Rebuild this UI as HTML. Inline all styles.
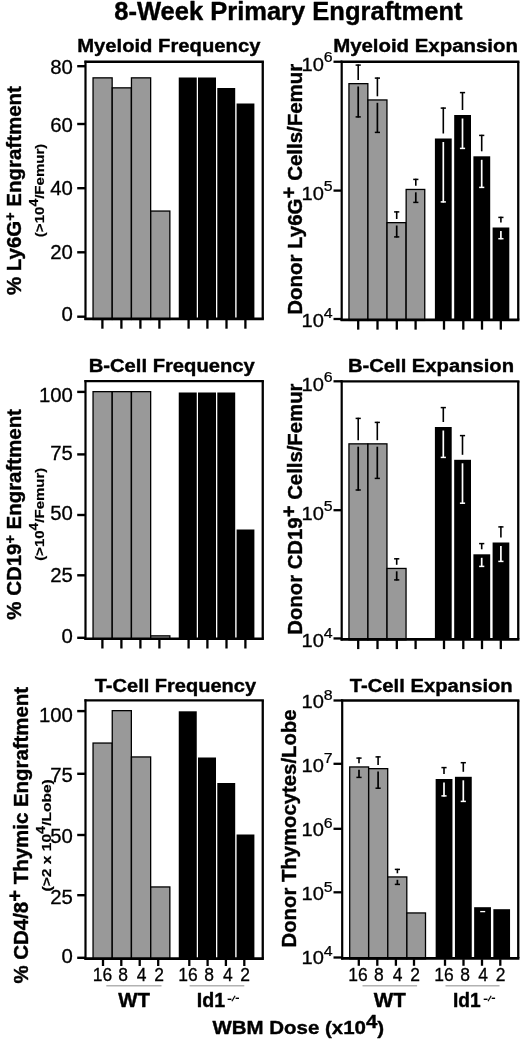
<!DOCTYPE html><html><head><meta charset="utf-8"><title>Figure</title>
<style>html,body{margin:0;padding:0;background:#fff}svg{display:block;filter:grayscale(1)}text{font-family:"Liberation Sans",sans-serif;fill:#000}</style></head><body>
<svg width="520" height="1039" viewBox="0 0 520 1039">
<rect width="520" height="1039" fill="#fff"/>
<text transform="translate(114.23,20.00) scale(1.0252,1)" font-size="24.9" font-weight="bold" stroke="#000" stroke-width="0.4" stroke-linejoin="round">8-Week Primary Engraftment</text>
<text transform="translate(77.18,52.00) scale(1.0537,1)" font-size="19.2" font-weight="bold" stroke="#000" stroke-width="0.4" stroke-linejoin="round">Myeloid Frequency</text>
<rect x="93.05" y="77.85" width="19.10" height="241.60" fill="#999999" stroke="#000" stroke-width="1.3"/>
<rect x="112.25" y="87.85" width="19.10" height="231.60" fill="#999999" stroke="#000" stroke-width="1.3"/>
<rect x="131.45" y="77.85" width="19.20" height="241.60" fill="#999999" stroke="#000" stroke-width="1.3"/>
<rect x="150.75" y="211.05" width="19.10" height="108.40" fill="#999999" stroke="#000" stroke-width="1.3"/>
<rect x="178.75" y="77.50" width="18.00" height="241.30" fill="#000"/>
<rect x="198.00" y="77.50" width="18.00" height="241.30" fill="#000"/>
<rect x="217.30" y="88.00" width="17.90" height="230.80" fill="#000"/>
<rect x="236.60" y="103.50" width="17.80" height="215.30" fill="#000"/>
<line x1="85.50" y1="60.65" x2="85.50" y2="320.10" stroke="#000" stroke-width="2.2"/>
<line x1="84.40" y1="61.75" x2="263.90" y2="61.75" stroke="#000" stroke-width="2.3"/>
<line x1="84.40" y1="318.95" x2="263.90" y2="318.95" stroke="#000" stroke-width="2.7"/>
<line x1="262.75" y1="61.75" x2="262.75" y2="318.80" stroke="#000" stroke-width="2.3"/>
<line x1="102.40" y1="319.80" x2="102.40" y2="328.70" stroke="#000" stroke-width="2.3"/>
<line x1="121.40" y1="319.80" x2="121.40" y2="328.70" stroke="#000" stroke-width="2.3"/>
<line x1="140.40" y1="319.80" x2="140.40" y2="328.70" stroke="#000" stroke-width="2.3"/>
<line x1="159.40" y1="319.80" x2="159.40" y2="328.70" stroke="#000" stroke-width="2.3"/>
<line x1="188.60" y1="319.80" x2="188.60" y2="328.70" stroke="#000" stroke-width="2.3"/>
<line x1="207.40" y1="319.80" x2="207.40" y2="328.70" stroke="#000" stroke-width="2.3"/>
<line x1="226.50" y1="319.80" x2="226.50" y2="328.70" stroke="#000" stroke-width="2.3"/>
<line x1="245.40" y1="319.80" x2="245.40" y2="328.70" stroke="#000" stroke-width="2.3"/>
<line x1="77.20" y1="66.20" x2="85.50" y2="66.20" stroke="#000" stroke-width="2.4"/>
<text transform="translate(72.9,73.80) scale(1.055,1)" font-size="19.3" text-anchor="end" stroke="#000" stroke-width="0.3">80</text>
<line x1="77.20" y1="124.00" x2="85.50" y2="124.00" stroke="#000" stroke-width="2.4"/>
<text transform="translate(72.9,131.50) scale(1.055,1)" font-size="19.3" text-anchor="end" stroke="#000" stroke-width="0.3">60</text>
<line x1="77.20" y1="188.20" x2="85.50" y2="188.20" stroke="#000" stroke-width="2.4"/>
<text transform="translate(72.9,195.30) scale(1.055,1)" font-size="19.3" text-anchor="end" stroke="#000" stroke-width="0.3">40</text>
<line x1="77.20" y1="252.30" x2="85.50" y2="252.30" stroke="#000" stroke-width="2.4"/>
<text transform="translate(72.9,258.90) scale(1.055,1)" font-size="19.3" text-anchor="end" stroke="#000" stroke-width="0.3">20</text>
<line x1="77.20" y1="316.70" x2="85.50" y2="316.70" stroke="#000" stroke-width="2.4"/>
<text transform="translate(72.9,321.10) scale(1.055,1)" font-size="19.3" text-anchor="end" stroke="#000" stroke-width="0.3">0</text>
<text transform="translate(20.60,295.11) rotate(-90) scale(1.0241,1)" font-size="20" font-weight="bold" stroke="#000" stroke-width="0.4" stroke-linejoin="round">% Ly6G<tspan dy="-5.8" font-size="14">+</tspan><tspan dy="5.8"> </tspan>Engraftment</text>
<text transform="translate(43.90,237.17) rotate(-90) scale(1.1596,1)" font-size="13" font-weight="bold" stroke="#000" stroke-width="0.2">(&gt;10<tspan dy="-5.6" font-size="12">4</tspan><tspan dy="5.6">/Femur)</tspan></text>
<text transform="translate(333.17,52.00) scale(1.0628,1)" font-size="19.2" font-weight="bold" stroke="#000" stroke-width="0.4" stroke-linejoin="round">Myeloid Expansion</text>
<rect x="348.95" y="83.65" width="18.90" height="236.75" fill="#999999" stroke="#000" stroke-width="1.3"/>
<rect x="367.95" y="99.95" width="19.00" height="220.45" fill="#999999" stroke="#000" stroke-width="1.3"/>
<rect x="387.05" y="222.65" width="19.00" height="97.75" fill="#999999" stroke="#000" stroke-width="1.3"/>
<rect x="406.15" y="189.45" width="18.60" height="130.95" fill="#999999" stroke="#000" stroke-width="1.3"/>
<rect x="434.90" y="138.50" width="16.80" height="181.25" fill="#000"/>
<rect x="454.20" y="115.00" width="16.80" height="204.75" fill="#000"/>
<rect x="473.40" y="156.30" width="16.80" height="163.45" fill="#000"/>
<rect x="492.60" y="227.50" width="16.70" height="92.25" fill="#000"/>
<line x1="358.20" y1="64.50" x2="358.20" y2="80.00" stroke="#000" stroke-width="1.6"/>
<line x1="355.60" y1="65.10" x2="360.80" y2="65.10" stroke="#000" stroke-width="1.5"/>
<line x1="358.20" y1="86.50" x2="358.20" y2="117.50" stroke="#000" stroke-width="1.7"/>
<line x1="355.60" y1="116.90" x2="360.80" y2="116.90" stroke="#000" stroke-width="1.5"/>
<line x1="377.40" y1="77.50" x2="377.40" y2="96.30" stroke="#000" stroke-width="1.6"/>
<line x1="374.80" y1="78.10" x2="380.00" y2="78.10" stroke="#000" stroke-width="1.5"/>
<line x1="377.40" y1="102.80" x2="377.40" y2="133.00" stroke="#000" stroke-width="1.7"/>
<line x1="374.80" y1="132.40" x2="380.00" y2="132.40" stroke="#000" stroke-width="1.5"/>
<line x1="396.70" y1="211.30" x2="396.70" y2="219.00" stroke="#000" stroke-width="1.6"/>
<line x1="394.10" y1="211.90" x2="399.30" y2="211.90" stroke="#000" stroke-width="1.5"/>
<line x1="396.70" y1="225.50" x2="396.70" y2="237.50" stroke="#000" stroke-width="1.7"/>
<line x1="394.10" y1="236.90" x2="399.30" y2="236.90" stroke="#000" stroke-width="1.5"/>
<line x1="415.80" y1="178.80" x2="415.80" y2="185.80" stroke="#000" stroke-width="1.6"/>
<line x1="413.20" y1="179.40" x2="418.40" y2="179.40" stroke="#000" stroke-width="1.5"/>
<line x1="415.80" y1="192.30" x2="415.80" y2="203.00" stroke="#000" stroke-width="1.7"/>
<line x1="413.20" y1="202.40" x2="418.40" y2="202.40" stroke="#000" stroke-width="1.5"/>
<line x1="443.30" y1="107.50" x2="443.30" y2="133.50" stroke="#000" stroke-width="1.6"/>
<line x1="440.70" y1="108.10" x2="445.90" y2="108.10" stroke="#000" stroke-width="1.5"/>
<line x1="443.30" y1="142.00" x2="443.30" y2="202.50" stroke="#fff" stroke-width="1.7"/>
<line x1="440.70" y1="201.90" x2="445.90" y2="201.90" stroke="#fff" stroke-width="1.5"/>
<line x1="462.50" y1="92.00" x2="462.50" y2="110.00" stroke="#000" stroke-width="1.6"/>
<line x1="459.90" y1="92.60" x2="465.10" y2="92.60" stroke="#000" stroke-width="1.5"/>
<line x1="462.50" y1="118.50" x2="462.50" y2="149.00" stroke="#fff" stroke-width="1.7"/>
<line x1="459.90" y1="148.40" x2="465.10" y2="148.40" stroke="#fff" stroke-width="1.5"/>
<line x1="481.70" y1="134.80" x2="481.70" y2="151.30" stroke="#000" stroke-width="1.6"/>
<line x1="479.10" y1="135.40" x2="484.30" y2="135.40" stroke="#000" stroke-width="1.5"/>
<line x1="481.70" y1="159.80" x2="481.70" y2="188.00" stroke="#fff" stroke-width="1.7"/>
<line x1="479.10" y1="187.40" x2="484.30" y2="187.40" stroke="#fff" stroke-width="1.5"/>
<line x1="500.90" y1="216.80" x2="500.90" y2="222.50" stroke="#000" stroke-width="1.6"/>
<line x1="498.30" y1="217.40" x2="503.50" y2="217.40" stroke="#000" stroke-width="1.5"/>
<line x1="500.90" y1="231.00" x2="500.90" y2="239.30" stroke="#fff" stroke-width="1.7"/>
<line x1="498.30" y1="238.70" x2="503.50" y2="238.70" stroke="#fff" stroke-width="1.5"/>
<line x1="341.70" y1="60.65" x2="341.70" y2="321.05" stroke="#000" stroke-width="2.2"/>
<line x1="340.60" y1="61.75" x2="519.40" y2="61.75" stroke="#000" stroke-width="2.3"/>
<line x1="340.60" y1="319.90" x2="519.40" y2="319.90" stroke="#000" stroke-width="2.7"/>
<line x1="518.25" y1="61.75" x2="518.25" y2="319.75" stroke="#000" stroke-width="2.3"/>
<line x1="358.20" y1="320.75" x2="358.20" y2="329.65" stroke="#000" stroke-width="2.3"/>
<line x1="377.50" y1="320.75" x2="377.50" y2="329.65" stroke="#000" stroke-width="2.3"/>
<line x1="396.80" y1="320.75" x2="396.80" y2="329.65" stroke="#000" stroke-width="2.3"/>
<line x1="415.60" y1="320.75" x2="415.60" y2="329.65" stroke="#000" stroke-width="2.3"/>
<line x1="444.00" y1="320.75" x2="444.00" y2="329.65" stroke="#000" stroke-width="2.3"/>
<line x1="463.30" y1="320.75" x2="463.30" y2="329.65" stroke="#000" stroke-width="2.3"/>
<line x1="482.00" y1="320.75" x2="482.00" y2="329.65" stroke="#000" stroke-width="2.3"/>
<line x1="500.80" y1="320.75" x2="500.80" y2="329.65" stroke="#000" stroke-width="2.3"/>
<line x1="333.50" y1="61.75" x2="341.70" y2="61.75" stroke="#000" stroke-width="2.3"/>
<text transform="translate(301.5,70.80) scale(1.08,1)" font-size="18.6" stroke="#000" stroke-width="0.3">10</text>
<text transform="translate(323.8,62.30) scale(1.12,1)" font-size="14.2" stroke="#000" stroke-width="0.25">6</text>
<line x1="333.50" y1="190.60" x2="341.70" y2="190.60" stroke="#000" stroke-width="2.3"/>
<text transform="translate(301.5,199.50) scale(1.08,1)" font-size="18.6" stroke="#000" stroke-width="0.3">10</text>
<text transform="translate(323.8,191.00) scale(1.12,1)" font-size="14.2" stroke="#000" stroke-width="0.25">5</text>
<line x1="333.50" y1="319.00" x2="341.70" y2="319.00" stroke="#000" stroke-width="2.3"/>
<text transform="translate(301.5,327.40) scale(1.08,1)" font-size="18.6" stroke="#000" stroke-width="0.3">10</text>
<text transform="translate(323.8,317.90) scale(1.12,1)" font-size="14.2" stroke="#000" stroke-width="0.25">4</text>
<text transform="translate(301.60,314.78) rotate(-90) scale(1.0234,1)" font-size="20" font-weight="bold" stroke="#000" stroke-width="0.4" stroke-linejoin="round">Donor Ly6G<tspan dy="-5.8">+</tspan><tspan dy="5.8"> </tspan>Cells/Femur</text>
<text transform="translate(88.68,372.00) scale(1.0528,1)" font-size="19.2" font-weight="bold" stroke="#000" stroke-width="0.4" stroke-linejoin="round">B-Cell Frequency</text>
<rect x="93.05" y="391.65" width="19.10" height="247.60" fill="#999999" stroke="#000" stroke-width="1.3"/>
<rect x="112.25" y="391.65" width="19.10" height="247.60" fill="#999999" stroke="#000" stroke-width="1.3"/>
<rect x="131.45" y="391.65" width="19.20" height="247.60" fill="#999999" stroke="#000" stroke-width="1.3"/>
<rect x="150.75" y="635.85" width="19.10" height="3.40" fill="#999999" stroke="#000" stroke-width="1.3"/>
<rect x="178.75" y="392.50" width="18.00" height="246.10" fill="#000"/>
<rect x="198.00" y="392.50" width="18.00" height="246.10" fill="#000"/>
<rect x="217.30" y="392.50" width="17.90" height="246.10" fill="#000"/>
<rect x="236.60" y="529.50" width="17.80" height="109.10" fill="#000"/>
<line x1="85.50" y1="380.00" x2="85.50" y2="639.90" stroke="#000" stroke-width="2.2"/>
<line x1="84.40" y1="381.10" x2="263.90" y2="381.10" stroke="#000" stroke-width="2.3"/>
<line x1="84.40" y1="638.75" x2="263.90" y2="638.75" stroke="#000" stroke-width="2.7"/>
<line x1="262.75" y1="381.10" x2="262.75" y2="638.60" stroke="#000" stroke-width="2.3"/>
<line x1="102.40" y1="639.60" x2="102.40" y2="648.50" stroke="#000" stroke-width="2.3"/>
<line x1="121.40" y1="639.60" x2="121.40" y2="648.50" stroke="#000" stroke-width="2.3"/>
<line x1="140.40" y1="639.60" x2="140.40" y2="648.50" stroke="#000" stroke-width="2.3"/>
<line x1="159.40" y1="639.60" x2="159.40" y2="648.50" stroke="#000" stroke-width="2.3"/>
<line x1="188.60" y1="639.60" x2="188.60" y2="648.50" stroke="#000" stroke-width="2.3"/>
<line x1="207.40" y1="639.60" x2="207.40" y2="648.50" stroke="#000" stroke-width="2.3"/>
<line x1="226.50" y1="639.60" x2="226.50" y2="648.50" stroke="#000" stroke-width="2.3"/>
<line x1="245.40" y1="639.60" x2="245.40" y2="648.50" stroke="#000" stroke-width="2.3"/>
<line x1="77.20" y1="391.90" x2="85.50" y2="391.90" stroke="#000" stroke-width="2.4"/>
<text transform="translate(72.9,401.50) scale(1.055,1)" font-size="19.3" text-anchor="end" stroke="#000" stroke-width="0.3">100</text>
<line x1="77.20" y1="454.40" x2="85.50" y2="454.40" stroke="#000" stroke-width="2.4"/>
<text transform="translate(72.9,460.40) scale(1.055,1)" font-size="19.3" text-anchor="end" stroke="#000" stroke-width="0.3">75</text>
<line x1="77.20" y1="515.00" x2="85.50" y2="515.00" stroke="#000" stroke-width="2.4"/>
<text transform="translate(72.9,519.90) scale(1.055,1)" font-size="19.3" text-anchor="end" stroke="#000" stroke-width="0.3">50</text>
<line x1="77.20" y1="575.30" x2="85.50" y2="575.30" stroke="#000" stroke-width="2.4"/>
<text transform="translate(72.9,582.20) scale(1.055,1)" font-size="19.3" text-anchor="end" stroke="#000" stroke-width="0.3">25</text>
<line x1="77.20" y1="637.80" x2="85.50" y2="637.80" stroke="#000" stroke-width="2.4"/>
<text transform="translate(72.9,642.60) scale(1.055,1)" font-size="19.3" text-anchor="end" stroke="#000" stroke-width="0.3">0</text>
<text transform="translate(20.60,619.71) rotate(-90) scale(1.0231,1)" font-size="20" font-weight="bold" stroke="#000" stroke-width="0.4" stroke-linejoin="round">% CD19<tspan dy="-5.8" font-size="14">+</tspan><tspan dy="5.8"> </tspan>Engraftment</text>
<text transform="translate(43.90,560.87) rotate(-90) scale(1.1546,1)" font-size="13" font-weight="bold" stroke="#000" stroke-width="0.2">(&gt;10<tspan dy="-5.6" font-size="12">4</tspan><tspan dy="5.6">/Femur)</tspan></text>
<text transform="translate(347.88,372.00) scale(1.0531,1)" font-size="19.2" font-weight="bold" stroke="#000" stroke-width="0.4" stroke-linejoin="round">B-Cell Expansion</text>
<rect x="348.95" y="443.85" width="18.90" height="196.00" fill="#999999" stroke="#000" stroke-width="1.3"/>
<rect x="367.95" y="443.85" width="19.00" height="196.00" fill="#999999" stroke="#000" stroke-width="1.3"/>
<rect x="387.05" y="568.45" width="19.00" height="71.40" fill="#999999" stroke="#000" stroke-width="1.3"/>
<rect x="434.90" y="427.00" width="16.80" height="212.20" fill="#000"/>
<rect x="454.20" y="459.80" width="16.80" height="179.40" fill="#000"/>
<rect x="473.40" y="554.30" width="16.80" height="84.90" fill="#000"/>
<rect x="492.60" y="542.50" width="16.70" height="96.70" fill="#000"/>
<line x1="358.20" y1="417.80" x2="358.20" y2="440.20" stroke="#000" stroke-width="1.6"/>
<line x1="355.60" y1="418.40" x2="360.80" y2="418.40" stroke="#000" stroke-width="1.5"/>
<line x1="358.20" y1="446.70" x2="358.20" y2="490.60" stroke="#000" stroke-width="1.7"/>
<line x1="355.60" y1="490.00" x2="360.80" y2="490.00" stroke="#000" stroke-width="1.5"/>
<line x1="377.30" y1="421.80" x2="377.30" y2="440.20" stroke="#000" stroke-width="1.6"/>
<line x1="374.70" y1="422.40" x2="379.90" y2="422.40" stroke="#000" stroke-width="1.5"/>
<line x1="377.30" y1="446.70" x2="377.30" y2="479.00" stroke="#000" stroke-width="1.7"/>
<line x1="374.70" y1="478.40" x2="379.90" y2="478.40" stroke="#000" stroke-width="1.5"/>
<line x1="396.70" y1="558.20" x2="396.70" y2="564.80" stroke="#000" stroke-width="1.6"/>
<line x1="394.10" y1="558.80" x2="399.30" y2="558.80" stroke="#000" stroke-width="1.5"/>
<line x1="396.70" y1="571.30" x2="396.70" y2="580.50" stroke="#000" stroke-width="1.7"/>
<line x1="394.10" y1="579.90" x2="399.30" y2="579.90" stroke="#000" stroke-width="1.5"/>
<line x1="443.30" y1="407.00" x2="443.30" y2="422.00" stroke="#000" stroke-width="1.6"/>
<line x1="440.70" y1="407.60" x2="445.90" y2="407.60" stroke="#000" stroke-width="1.5"/>
<line x1="443.30" y1="430.50" x2="443.30" y2="458.00" stroke="#fff" stroke-width="1.7"/>
<line x1="440.70" y1="457.40" x2="445.90" y2="457.40" stroke="#fff" stroke-width="1.5"/>
<line x1="462.50" y1="435.00" x2="462.50" y2="454.80" stroke="#000" stroke-width="1.6"/>
<line x1="459.90" y1="435.60" x2="465.10" y2="435.60" stroke="#000" stroke-width="1.5"/>
<line x1="462.50" y1="463.30" x2="462.50" y2="503.80" stroke="#fff" stroke-width="1.7"/>
<line x1="459.90" y1="503.20" x2="465.10" y2="503.20" stroke="#fff" stroke-width="1.5"/>
<line x1="481.70" y1="543.00" x2="481.70" y2="549.30" stroke="#000" stroke-width="1.6"/>
<line x1="479.10" y1="543.60" x2="484.30" y2="543.60" stroke="#000" stroke-width="1.5"/>
<line x1="481.70" y1="557.80" x2="481.70" y2="567.00" stroke="#fff" stroke-width="1.7"/>
<line x1="479.10" y1="566.40" x2="484.30" y2="566.40" stroke="#fff" stroke-width="1.5"/>
<line x1="500.90" y1="526.30" x2="500.90" y2="537.50" stroke="#000" stroke-width="1.6"/>
<line x1="498.30" y1="526.90" x2="503.50" y2="526.90" stroke="#000" stroke-width="1.5"/>
<line x1="500.90" y1="546.00" x2="500.90" y2="562.00" stroke="#fff" stroke-width="1.7"/>
<line x1="498.30" y1="561.40" x2="503.50" y2="561.40" stroke="#fff" stroke-width="1.5"/>
<line x1="341.70" y1="380.20" x2="341.70" y2="640.50" stroke="#000" stroke-width="2.2"/>
<line x1="340.60" y1="381.30" x2="519.40" y2="381.30" stroke="#000" stroke-width="2.3"/>
<line x1="340.60" y1="639.35" x2="519.40" y2="639.35" stroke="#000" stroke-width="2.7"/>
<line x1="518.25" y1="381.30" x2="518.25" y2="639.20" stroke="#000" stroke-width="2.3"/>
<line x1="358.20" y1="640.20" x2="358.20" y2="649.10" stroke="#000" stroke-width="2.3"/>
<line x1="377.50" y1="640.20" x2="377.50" y2="649.10" stroke="#000" stroke-width="2.3"/>
<line x1="396.80" y1="640.20" x2="396.80" y2="649.10" stroke="#000" stroke-width="2.3"/>
<line x1="415.60" y1="640.20" x2="415.60" y2="649.10" stroke="#000" stroke-width="2.3"/>
<line x1="444.00" y1="640.20" x2="444.00" y2="649.10" stroke="#000" stroke-width="2.3"/>
<line x1="463.30" y1="640.20" x2="463.30" y2="649.10" stroke="#000" stroke-width="2.3"/>
<line x1="482.00" y1="640.20" x2="482.00" y2="649.10" stroke="#000" stroke-width="2.3"/>
<line x1="500.80" y1="640.20" x2="500.80" y2="649.10" stroke="#000" stroke-width="2.3"/>
<line x1="333.50" y1="381.30" x2="341.70" y2="381.30" stroke="#000" stroke-width="2.3"/>
<text transform="translate(301.5,390.80) scale(1.08,1)" font-size="18.6" stroke="#000" stroke-width="0.3">10</text>
<text transform="translate(323.8,382.30) scale(1.12,1)" font-size="14.2" stroke="#000" stroke-width="0.25">6</text>
<line x1="333.50" y1="510.20" x2="341.70" y2="510.20" stroke="#000" stroke-width="2.3"/>
<text transform="translate(301.5,519.50) scale(1.08,1)" font-size="18.6" stroke="#000" stroke-width="0.3">10</text>
<text transform="translate(323.8,511.00) scale(1.12,1)" font-size="14.2" stroke="#000" stroke-width="0.25">5</text>
<line x1="333.50" y1="638.45" x2="341.70" y2="638.45" stroke="#000" stroke-width="2.3"/>
<text transform="translate(301.5,647.40) scale(1.08,1)" font-size="18.6" stroke="#000" stroke-width="0.3">10</text>
<text transform="translate(323.8,637.90) scale(1.12,1)" font-size="14.2" stroke="#000" stroke-width="0.25">4</text>
<text transform="translate(301.60,634.77) rotate(-90) scale(1.0161,1)" font-size="20" font-weight="bold" stroke="#000" stroke-width="0.4" stroke-linejoin="round">Donor CD19<tspan dy="-5.8">+</tspan><tspan dy="5.8"> </tspan>Cells/Femur</text>
<text transform="translate(94.74,692.40) scale(1.0438,1)" font-size="19.2" font-weight="bold" stroke="#000" stroke-width="0.4" stroke-linejoin="round">T-Cell Frequency</text>
<rect x="93.05" y="743.05" width="19.10" height="216.00" fill="#999999" stroke="#000" stroke-width="1.3"/>
<rect x="112.25" y="710.65" width="19.10" height="248.40" fill="#999999" stroke="#000" stroke-width="1.3"/>
<rect x="131.45" y="756.95" width="19.20" height="202.10" fill="#999999" stroke="#000" stroke-width="1.3"/>
<rect x="150.75" y="886.95" width="19.10" height="72.10" fill="#999999" stroke="#000" stroke-width="1.3"/>
<rect x="178.75" y="711.30" width="18.00" height="247.10" fill="#000"/>
<rect x="198.00" y="757.50" width="18.00" height="200.90" fill="#000"/>
<rect x="217.30" y="783.00" width="17.90" height="175.40" fill="#000"/>
<rect x="236.60" y="834.50" width="17.80" height="123.90" fill="#000"/>
<line x1="85.50" y1="699.30" x2="85.50" y2="959.70" stroke="#000" stroke-width="2.2"/>
<line x1="84.40" y1="700.40" x2="263.90" y2="700.40" stroke="#000" stroke-width="2.3"/>
<line x1="84.40" y1="958.55" x2="263.90" y2="958.55" stroke="#000" stroke-width="2.7"/>
<line x1="262.75" y1="700.40" x2="262.75" y2="958.40" stroke="#000" stroke-width="2.3"/>
<line x1="103.00" y1="959.40" x2="103.00" y2="966.00" stroke="#000" stroke-width="2.3"/>
<line x1="121.30" y1="959.40" x2="121.30" y2="966.00" stroke="#000" stroke-width="2.3"/>
<line x1="139.70" y1="959.40" x2="139.70" y2="966.00" stroke="#000" stroke-width="2.3"/>
<line x1="158.20" y1="959.40" x2="158.20" y2="966.00" stroke="#000" stroke-width="2.3"/>
<line x1="189.30" y1="959.40" x2="189.30" y2="966.00" stroke="#000" stroke-width="2.3"/>
<line x1="207.60" y1="959.40" x2="207.60" y2="966.00" stroke="#000" stroke-width="2.3"/>
<line x1="225.90" y1="959.40" x2="225.90" y2="966.00" stroke="#000" stroke-width="2.3"/>
<line x1="244.30" y1="959.40" x2="244.30" y2="966.00" stroke="#000" stroke-width="2.3"/>
<line x1="77.20" y1="711.10" x2="85.50" y2="711.10" stroke="#000" stroke-width="2.4"/>
<text transform="translate(72.9,721.70) scale(1.055,1)" font-size="19.3" text-anchor="end" stroke="#000" stroke-width="0.3">100</text>
<line x1="77.20" y1="773.80" x2="85.50" y2="773.80" stroke="#000" stroke-width="2.4"/>
<text transform="translate(72.9,781.50) scale(1.055,1)" font-size="19.3" text-anchor="end" stroke="#000" stroke-width="0.3">75</text>
<line x1="77.20" y1="835.00" x2="85.50" y2="835.00" stroke="#000" stroke-width="2.4"/>
<text transform="translate(72.9,843.00) scale(1.055,1)" font-size="19.3" text-anchor="end" stroke="#000" stroke-width="0.3">50</text>
<line x1="77.20" y1="895.20" x2="85.50" y2="895.20" stroke="#000" stroke-width="2.4"/>
<text transform="translate(72.9,903.80) scale(1.055,1)" font-size="19.3" text-anchor="end" stroke="#000" stroke-width="0.3">25</text>
<line x1="77.20" y1="957.80" x2="85.50" y2="957.80" stroke="#000" stroke-width="2.4"/>
<text transform="translate(72.9,962.60) scale(1.055,1)" font-size="19.3" text-anchor="end" stroke="#000" stroke-width="0.3">0</text>
<text transform="translate(28.00,983.51) rotate(-90) scale(1.0210,1)" font-size="20" font-weight="bold" stroke="#000" stroke-width="0.4" stroke-linejoin="round">% CD4/8<tspan dy="-5.8">+</tspan><tspan dy="5.8"> </tspan>Thymic Engraftment</text>
<text transform="translate(50.90,891.40) rotate(-90) scale(1.1978,1)" font-size="13" font-weight="bold" stroke="#000" stroke-width="0.2">(&gt;2 x 10<tspan dy="-5.6" font-size="12">4</tspan><tspan dy="5.6">/Lobe)</tspan></text>
<text transform="translate(349.74,692.40) scale(1.0538,1)" font-size="19.2" font-weight="bold" stroke="#000" stroke-width="0.4" stroke-linejoin="round">T-Cell Expansion</text>
<rect x="349.70" y="766.95" width="18.90" height="191.90" fill="#999999" stroke="#000" stroke-width="1.3"/>
<rect x="368.70" y="768.65" width="19.00" height="190.20" fill="#999999" stroke="#000" stroke-width="1.3"/>
<rect x="387.80" y="876.95" width="19.00" height="81.90" fill="#999999" stroke="#000" stroke-width="1.3"/>
<rect x="406.90" y="912.95" width="18.60" height="45.90" fill="#999999" stroke="#000" stroke-width="1.3"/>
<rect x="435.65" y="779.00" width="16.80" height="179.20" fill="#000"/>
<rect x="454.95" y="776.80" width="16.80" height="181.40" fill="#000"/>
<rect x="474.15" y="907.20" width="16.80" height="51.00" fill="#000"/>
<rect x="493.35" y="909.20" width="16.70" height="49.00" fill="#000"/>
<line x1="359.00" y1="757.50" x2="359.00" y2="763.30" stroke="#000" stroke-width="1.6"/>
<line x1="356.40" y1="758.10" x2="361.60" y2="758.10" stroke="#000" stroke-width="1.5"/>
<line x1="359.00" y1="769.80" x2="359.00" y2="778.00" stroke="#000" stroke-width="1.7"/>
<line x1="356.40" y1="777.40" x2="361.60" y2="777.40" stroke="#000" stroke-width="1.5"/>
<line x1="378.10" y1="756.30" x2="378.10" y2="765.00" stroke="#000" stroke-width="1.6"/>
<line x1="375.50" y1="756.90" x2="380.70" y2="756.90" stroke="#000" stroke-width="1.5"/>
<line x1="378.10" y1="771.50" x2="378.10" y2="788.80" stroke="#000" stroke-width="1.7"/>
<line x1="375.50" y1="788.20" x2="380.70" y2="788.20" stroke="#000" stroke-width="1.5"/>
<line x1="397.40" y1="868.80" x2="397.40" y2="873.30" stroke="#000" stroke-width="1.6"/>
<line x1="394.80" y1="869.40" x2="400.00" y2="869.40" stroke="#000" stroke-width="1.5"/>
<line x1="397.40" y1="879.80" x2="397.40" y2="885.00" stroke="#000" stroke-width="1.7"/>
<line x1="394.80" y1="884.40" x2="400.00" y2="884.40" stroke="#000" stroke-width="1.5"/>
<line x1="444.00" y1="767.00" x2="444.00" y2="774.00" stroke="#000" stroke-width="1.6"/>
<line x1="441.40" y1="767.60" x2="446.60" y2="767.60" stroke="#000" stroke-width="1.5"/>
<line x1="444.00" y1="782.50" x2="444.00" y2="796.50" stroke="#fff" stroke-width="1.7"/>
<line x1="441.40" y1="795.90" x2="446.60" y2="795.90" stroke="#fff" stroke-width="1.5"/>
<line x1="463.30" y1="762.10" x2="463.30" y2="771.80" stroke="#000" stroke-width="1.6"/>
<line x1="460.70" y1="762.70" x2="465.90" y2="762.70" stroke="#000" stroke-width="1.5"/>
<line x1="463.30" y1="780.30" x2="463.30" y2="802.00" stroke="#fff" stroke-width="1.7"/>
<line x1="460.70" y1="801.40" x2="465.90" y2="801.40" stroke="#fff" stroke-width="1.5"/>
<line x1="480.20" y1="911.60" x2="485.20" y2="911.60" stroke="#fff" stroke-width="1.3"/>
<line x1="342.20" y1="699.40" x2="342.20" y2="959.50" stroke="#000" stroke-width="2.2"/>
<line x1="341.10" y1="700.50" x2="519.40" y2="700.50" stroke="#000" stroke-width="2.3"/>
<line x1="341.10" y1="958.35" x2="519.40" y2="958.35" stroke="#000" stroke-width="2.7"/>
<line x1="518.25" y1="700.50" x2="518.25" y2="958.20" stroke="#000" stroke-width="2.3"/>
<line x1="358.80" y1="959.20" x2="358.80" y2="965.80" stroke="#000" stroke-width="2.3"/>
<line x1="377.30" y1="959.20" x2="377.30" y2="965.80" stroke="#000" stroke-width="2.3"/>
<line x1="395.90" y1="959.20" x2="395.90" y2="965.80" stroke="#000" stroke-width="2.3"/>
<line x1="414.00" y1="959.20" x2="414.00" y2="965.80" stroke="#000" stroke-width="2.3"/>
<line x1="445.00" y1="959.20" x2="445.00" y2="965.80" stroke="#000" stroke-width="2.3"/>
<line x1="463.50" y1="959.20" x2="463.50" y2="965.80" stroke="#000" stroke-width="2.3"/>
<line x1="482.00" y1="959.20" x2="482.00" y2="965.80" stroke="#000" stroke-width="2.3"/>
<line x1="500.30" y1="959.20" x2="500.30" y2="965.80" stroke="#000" stroke-width="2.3"/>
<line x1="333.50" y1="700.50" x2="342.20" y2="700.50" stroke="#000" stroke-width="2.3"/>
<text transform="translate(301.5,708.10) scale(1.08,1)" font-size="18.6" stroke="#000" stroke-width="0.3">10</text>
<text transform="translate(323.8,699.60) scale(1.12,1)" font-size="14.2" stroke="#000" stroke-width="0.25">8</text>
<line x1="333.50" y1="763.80" x2="342.20" y2="763.80" stroke="#000" stroke-width="2.3"/>
<text transform="translate(301.5,771.90) scale(1.08,1)" font-size="18.6" stroke="#000" stroke-width="0.3">10</text>
<text transform="translate(323.8,763.40) scale(1.12,1)" font-size="14.2" stroke="#000" stroke-width="0.25">7</text>
<line x1="333.50" y1="828.80" x2="342.20" y2="828.80" stroke="#000" stroke-width="2.3"/>
<text transform="translate(301.5,836.00) scale(1.08,1)" font-size="18.6" stroke="#000" stroke-width="0.3">10</text>
<text transform="translate(323.8,827.50) scale(1.12,1)" font-size="14.2" stroke="#000" stroke-width="0.25">6</text>
<line x1="333.50" y1="892.30" x2="342.20" y2="892.30" stroke="#000" stroke-width="2.3"/>
<text transform="translate(301.5,900.20) scale(1.08,1)" font-size="18.6" stroke="#000" stroke-width="0.3">10</text>
<text transform="translate(323.8,891.70) scale(1.12,1)" font-size="14.2" stroke="#000" stroke-width="0.25">5</text>
<line x1="333.50" y1="957.50" x2="342.20" y2="957.50" stroke="#000" stroke-width="2.3"/>
<text transform="translate(301.5,964.30) scale(1.08,1)" font-size="18.6" stroke="#000" stroke-width="0.3">10</text>
<text transform="translate(323.8,955.80) scale(1.12,1)" font-size="14.2" stroke="#000" stroke-width="0.25">4</text>
<text transform="translate(296.00,947.47) rotate(-90) scale(1.0159,1)" font-size="20" font-weight="bold" stroke="#000" stroke-width="0.4" stroke-linejoin="round">Donor Thymocytes/Lobe</text>
<text transform="translate(102.40,981.4) scale(0.93,1)" font-size="18.8" text-anchor="middle" stroke="#000" stroke-width="0.3">16</text>
<text transform="translate(123.00,981.4) scale(0.93,1)" font-size="18.8" text-anchor="middle" stroke="#000" stroke-width="0.3">8</text>
<text transform="translate(141.60,981.4) scale(0.93,1)" font-size="18.8" text-anchor="middle" stroke="#000" stroke-width="0.3">4</text>
<text transform="translate(159.20,981.4) scale(0.93,1)" font-size="18.8" text-anchor="middle" stroke="#000" stroke-width="0.3">2</text>
<text transform="translate(188.00,981.4) scale(0.93,1)" font-size="18.8" text-anchor="middle" stroke="#000" stroke-width="0.3">16</text>
<text transform="translate(209.00,981.4) scale(0.93,1)" font-size="18.8" text-anchor="middle" stroke="#000" stroke-width="0.3">8</text>
<text transform="translate(227.80,981.4) scale(0.93,1)" font-size="18.8" text-anchor="middle" stroke="#000" stroke-width="0.3">4</text>
<text transform="translate(245.10,981.4) scale(0.93,1)" font-size="18.8" text-anchor="middle" stroke="#000" stroke-width="0.3">2</text>
<text transform="translate(358.00,981.4) scale(0.93,1)" font-size="18.8" text-anchor="middle" stroke="#000" stroke-width="0.3">16</text>
<text transform="translate(378.80,981.4) scale(0.93,1)" font-size="18.8" text-anchor="middle" stroke="#000" stroke-width="0.3">8</text>
<text transform="translate(397.60,981.4) scale(0.93,1)" font-size="18.8" text-anchor="middle" stroke="#000" stroke-width="0.3">4</text>
<text transform="translate(415.10,981.4) scale(0.93,1)" font-size="18.8" text-anchor="middle" stroke="#000" stroke-width="0.3">2</text>
<text transform="translate(443.90,981.4) scale(0.93,1)" font-size="18.8" text-anchor="middle" stroke="#000" stroke-width="0.3">16</text>
<text transform="translate(465.00,981.4) scale(0.93,1)" font-size="18.8" text-anchor="middle" stroke="#000" stroke-width="0.3">8</text>
<text transform="translate(483.10,981.4) scale(0.93,1)" font-size="18.8" text-anchor="middle" stroke="#000" stroke-width="0.3">4</text>
<text transform="translate(500.70,981.4) scale(0.93,1)" font-size="18.8" text-anchor="middle" stroke="#000" stroke-width="0.3">2</text>
<line x1="106.30" y1="985.70" x2="161.50" y2="985.70" stroke="#b2b2b2" stroke-width="1.5"/>
<line x1="189.60" y1="985.70" x2="244.30" y2="985.70" stroke="#b2b2b2" stroke-width="1.5"/>
<line x1="362.50" y1="985.70" x2="417.10" y2="985.70" stroke="#b2b2b2" stroke-width="1.5"/>
<line x1="445.50" y1="985.70" x2="499.50" y2="985.70" stroke="#b2b2b2" stroke-width="1.5"/>
<text transform="translate(118.30,1007.40) scale(1.0161,1)" font-size="20.1" font-weight="bold" stroke="#000" stroke-width="0.4" stroke-linejoin="round">WT</text>
<text transform="translate(373.80,1007.40) scale(1.0258,1)" font-size="20.1" font-weight="bold" stroke="#000" stroke-width="0.4" stroke-linejoin="round">WT</text>
<text transform="translate(196.78,1007.40) scale(0.9761,1)" font-size="20.1" font-weight="bold" stroke="#000" stroke-width="0.4" stroke-linejoin="round">Id1</text>
<text transform="translate(453.01,1007.40) scale(0.9541,1)" font-size="20.1" font-weight="bold" stroke="#000" stroke-width="0.4" stroke-linejoin="round">Id1</text>
<text transform="translate(212.50,1033.70) scale(1.0656,1)" font-size="19.2" font-weight="bold" stroke="#000" stroke-width="0.4" stroke-linejoin="round">WBM Dose (x10<tspan dy="-5.7">4</tspan><tspan dy="5.7">)</tspan></text>
<line x1="227.60" y1="999.30" x2="231.40" y2="999.30" stroke="#000" stroke-width="1.4"/>
<line x1="231.90" y1="1001.20" x2="235.10" y2="995.70" stroke="#000" stroke-width="1.2"/>
<line x1="235.60" y1="998.30" x2="239.00" y2="998.30" stroke="#000" stroke-width="1.4"/>
<line x1="483.70" y1="999.30" x2="487.50" y2="999.30" stroke="#000" stroke-width="1.4"/>
<line x1="488.00" y1="1001.20" x2="491.20" y2="995.70" stroke="#000" stroke-width="1.2"/>
<line x1="491.70" y1="998.30" x2="495.10" y2="998.30" stroke="#000" stroke-width="1.4"/>
</svg></body></html>
